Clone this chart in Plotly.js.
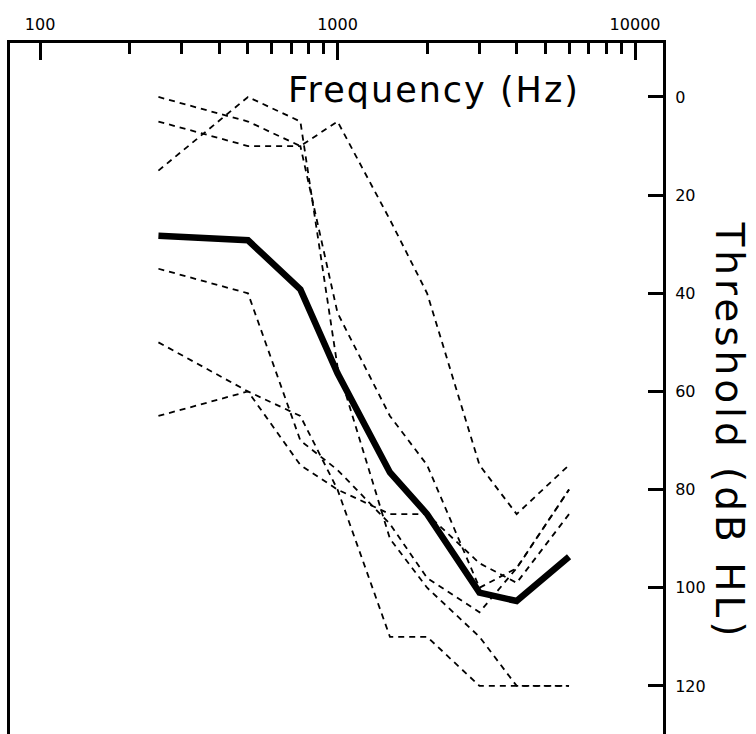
<!DOCTYPE html>
<html>
<head>
<meta charset="utf-8">
<script src="https://cdn.plot.ly/plotly-3.0.1.min.js"></script>
<style>
html,body{margin:0;padding:0;background:#fff;}
#chart{width:756px;height:734px;}
text[data-unformatted="Frequency (Hz)"]{letter-spacing:2px;}
text[data-unformatted="Threshold (dB HL)"]{letter-spacing:4px;}
</style>
</head>
<body>
<div id="chart"></div>
<script>
// Audiometric frequencies (Hz)
const freqs = [250, 500, 750, 1000, 1500, 2000, 3000, 4000, 6000];
// Individual thresholds (dB HL)
const subject1 = [0, 5, 10, 5, 25, 40, 75, 85, 75];
const subject2 = [5, 10, 10, 44, 65, 75, 100, 96, 80];
const subject3 = [15, 0, 5, 55, 90, 100, 110, 120, 120];
const subject4 = [35, 40, 70, 76, 87, 98, 105, 96, 80];
const subject5 = [50, 60, 65, 80, 110, 110, 120, 120, 120];
const subject6 = [65, 60, 75, 80, 85, 85, 95, 99, 85];
// Mean threshold (thick line)
const meanThreshold = [28.3, 29.2, 39.2, 56.3, 76.5, 85, 101, 102.7, 93.7];

// Axis ticks
const xMajorTicks = [100, 1000, 10000];
const xMajorLabels = ['100', '1000', '10000'];
const xMinorTicks = [200, 300, 400, 500, 600, 700, 800, 900, 2000, 3000, 4000, 5000, 6000, 7000, 8000, 9000];
const yTicks = [0, 20, 40, 60, 80, 100, 120];
const yLabels = ['0', '20', '40', '60', '80', '100', '120'];

const subjects = [subject1, subject2, subject3, subject4, subject5, subject6];
const traces = subjects.map(s => ({
  x: freqs, y: s, type: 'scatter', mode: 'lines',
  line: {color: 'black', width: 1.8, dash: '6px,5px'},
  hoverinfo: 'skip'
}));
traces.push({
  x: freqs, y: meanThreshold, type: 'scatter', mode: 'lines',
  line: {color: 'black', width: 6.5}, hoverinfo: 'skip'
});

const font = 'DejaVu Sans, sans-serif';
const layout = {
  width: 756, height: 734,
  margin: {l: 10, r: 93, t: 43, b: 0, pad: 0},
  paper_bgcolor: 'white', plot_bgcolor: 'white',
  showlegend: false, hovermode: false,
  xaxis: {
    type: 'log', side: 'top', range: [1.899, 4.094],
    tickmode: 'array', tickvals: xMajorTicks, ticktext: xMajorLabels,
    ticks: 'inside', ticklen: 17, tickwidth: 3, tickcolor: 'black',
    showline: true, linewidth: 3, linecolor: 'black',
    showgrid: false, zeroline: false, ticklabelstandoff: 4,
    tickfont: {family: font, size: 16, color: 'black'},
    minor: {tickmode: 'array', tickvals: xMinorTicks, ticks: 'inside', ticklen: 11, tickwidth: 3, tickcolor: 'black', showgrid: false}
  },
  yaxis: {
    side: 'right', range: [129.8, -11],
    tickmode: 'array', tickvals: yTicks, ticktext: yLabels,
    ticks: 'inside', ticklen: 15, tickwidth: 3, tickcolor: 'black',
    showline: true, mirror: true, linewidth: 3, linecolor: 'black',
    showgrid: false, zeroline: false, ticklabelstandoff: 6,
    tickfont: {family: font, size: 16, color: 'black'}
  },
  annotations: [
    {text: 'Frequency (Hz)', xref: 'paper', yref: 'paper', x: 0.649, y: 0.932,
     xanchor: 'center', yanchor: 'middle', showarrow: false,
     font: {family: font, size: 35, color: 'black'}},
    {text: 'Threshold (dB HL)', xref: 'paper', yref: 'paper', x: 1.1026, y: 0.4378,
     xanchor: 'center', yanchor: 'middle', showarrow: false, textangle: 90,
     font: {family: font, size: 39, color: 'black'}}
  ]
};

Plotly.newPlot('chart', traces, layout, {staticPlot: true, displayModeBar: false});
</script>
</body>
</html>
